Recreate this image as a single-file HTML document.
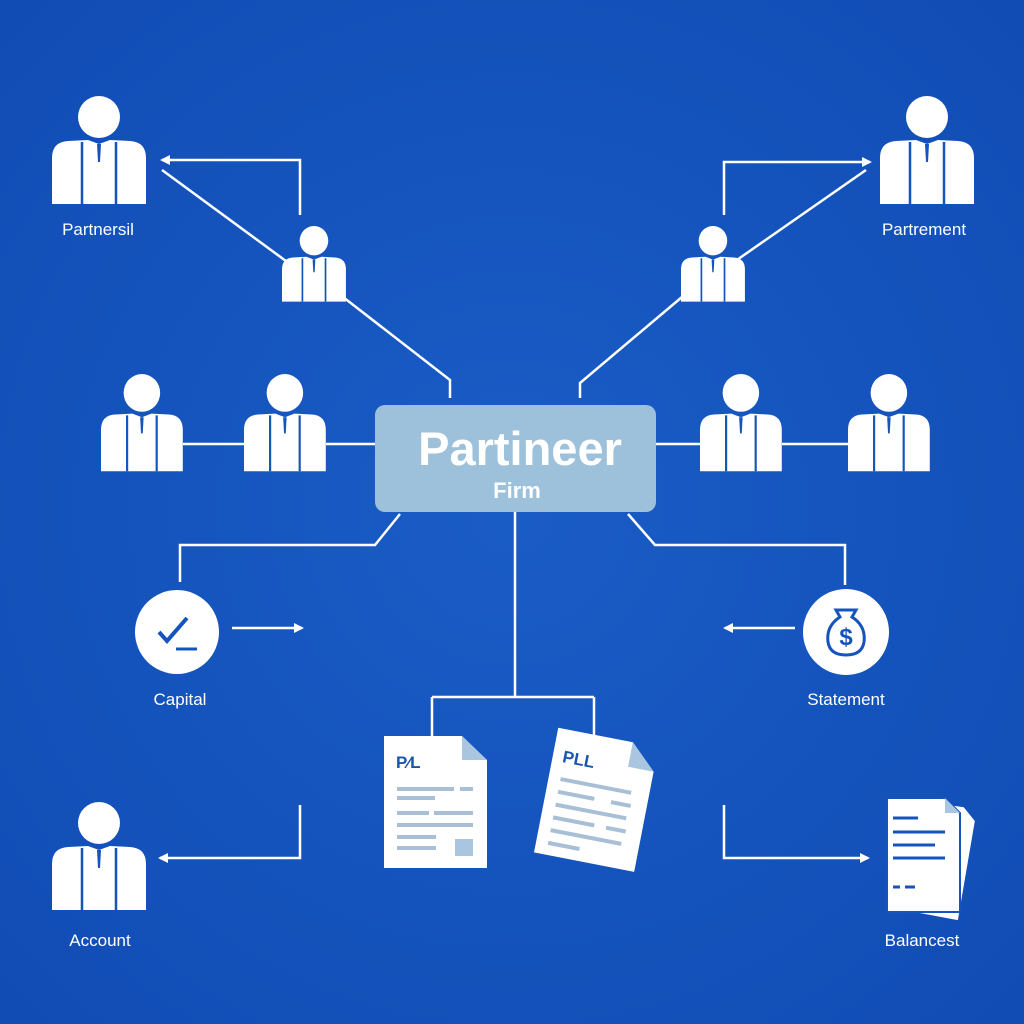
<!DOCTYPE html>
<html><head><style>
html,body{margin:0;padding:0;background:#1554bd;}
svg{display:block;font-family:"Liberation Sans",sans-serif;}
</style></head><body>
<svg width="1024" height="1024" viewBox="0 0 1024 1024">
<defs>
<radialGradient id="bg" cx="50%" cy="50%" r="70%"><stop offset="0" stop-color="#1a5cc6"/><stop offset="1" stop-color="#114cb4"/></radialGradient>
<g id="p">
<circle cx="47" cy="21" r="21" fill="#fff"/>
<path d="M0,108 L0,62 Q0,46 16,45 L36,44 L47,48 L58,44 L78,45 Q94,46 94,62 L94,108 Z" fill="#fff"/>
<path d="M30,46 L30,108 M64,46 L64,108" stroke="#1554bd" stroke-width="2.5"/>
<path d="M45,48 L49,48 L48,66 L46,66 Z" fill="#1554bd"/>
</g>
<marker id="ah" markerWidth="10" markerHeight="10" refX="8" refY="5" orient="auto" markerUnits="userSpaceOnUse"><path d="M0,0 L10,5 L0,10 Z" fill="#fff"/></marker>
</defs>
<rect width="1024" height="1024" fill="url(#bg)"/>
<g stroke="#fff" stroke-width="2.5" fill="none">
<path d="M300,215 L300,160 L162,160" marker-end="url(#ah)"/>
<path d="M290,264 L162,170"/>
<path d="M343,297 L450,380 L450,398"/>
<path d="M724,215 L724,162 L870,162" marker-end="url(#ah)"/>
<path d="M734,262 L866,170"/>
<path d="M682,297 L580,383 L580,398"/>
<path d="M183,444 L244,444 M326,444 L375,444 M656,444 L700,444 M782,444 L848,444"/>
<path d="M400,514 L375,545 L180,545 L180,582"/>
<path d="M628,514 L655,545 L845,545 L845,585"/>
<path d="M515,512 L515,697 M432,697 L594,697 M432,697 L432,737 M594,697 L594,735"/>
<path d="M232,628 L302,628" marker-end="url(#ah)"/>
<path d="M795,628 L725,628" marker-end="url(#ah)"/>
<path d="M300,805 L300,858 L160,858" marker-end="url(#ah)"/>
<path d="M724,805 L724,858 L868,858" marker-end="url(#ah)"/>
</g>
<use href="#p" x="52" y="96"/>
<use href="#p" x="880" y="96"/>
<use href="#p" transform="translate(282,226) scale(0.68,0.7)"/>
<use href="#p" transform="translate(681,226) scale(0.68,0.7)"/>
<use href="#p" transform="translate(101,374) scale(0.87,0.9)"/>
<use href="#p" transform="translate(244,374) scale(0.87,0.9)"/>
<use href="#p" transform="translate(700,374) scale(0.87,0.9)"/>
<use href="#p" transform="translate(848,374) scale(0.87,0.9)"/>
<use href="#p" x="52" y="802"/>
<rect x="375" y="405" width="281" height="107" rx="10" fill="#9dc1da"/>
<text x="520" y="465" font-size="47" font-weight="bold" fill="#fff" text-anchor="middle">Partineer</text>
<text x="517" y="498" font-size="22" font-weight="bold" fill="#fff" text-anchor="middle">Firm</text>
<g fill="#fff" font-size="17" text-anchor="middle">
<text x="98" y="235">Partnersil</text>
<text x="924" y="235">Partrement</text>
<text x="180" y="705">Capital</text>
<text x="846" y="705">Statement</text>
<text x="100" y="946">Account</text>
<text x="922" y="946">Balancest</text>
</g>
<circle cx="177" cy="632" r="42" fill="#fff"/>
<path d="M159,632 L167,641 L187,618" stroke="#1554bd" stroke-width="4" fill="none"/>
<path d="M176,649 L197,649" stroke="#1554bd" stroke-width="3"/>
<circle cx="846" cy="632" r="43" fill="#fff"/>
<path d="M836,610 L856,610 L852,617 Q866,626 864,642 Q862,655 846,655 Q830,655 828,642 Q826,626 840,617 Z" fill="none" stroke="#1554bd" stroke-width="3"/>
<text x="846" y="645" font-size="24" font-weight="bold" fill="#1554bd" text-anchor="middle">$</text>
<path d="M384,736 L462,736 L487,760 L487,868 L384,868 Z" fill="#fff"/>
<path d="M462,736 L462,760 L487,760 Z" fill="#a9c5df"/>
<text x="396" y="768" font-size="17" font-weight="bold" fill="#1a55aa">P⁄L</text>
<g stroke="#a9bfd6" stroke-width="4">
<path d="M397,789 L454,789 M460,789 L473,789 M397,798 L435,798 M397,813 L429,813 M434,813 L473,813 M397,825 L473,825 M397,837 L436,837 M397,848 L436,848"/>
</g>
<rect x="455" y="839" width="18" height="17" fill="#a9c5df"/>
<g transform="rotate(11 590 795)">
<path d="M546,735 L622,735 L648,760 L648,862 L546,862 Z" fill="#fff"/>
<path d="M622,735 L622,760 L648,760 Z" fill="#a9c5df"/>
<text x="556" y="768" font-size="17" font-weight="bold" fill="#1a55aa">PLL</text>
<g stroke="#a9bfd6" stroke-width="4">
<path d="M558,785 L630,785 M558,798 L595,798 M612,798 L632,798 M558,811 L630,811 M558,824 L600,824 M612,824 L632,824 M558,837 L630,837 M558,850 L590,850"/>
</g>
</g>
<g>
<path d="M895,800 L960,805 L972,818 L962,918 L892,910 Z" fill="#fff" transform="rotate(4 930 860)"/>
<path d="M887,798 L945,798 L960,813 L960,912 L887,912 Z" fill="#fff" stroke="#1554bd" stroke-width="2"/>
<path d="M945,798 L945,813 L960,813 Z" fill="#a9c5df"/>
<g stroke="#1554bd" stroke-width="3"><path d="M893,818 L918,818 M893,832 L945,832 M893,845 L935,845 M893,858 L945,858 M893,887 L900,887 M905,887 L915,887"/></g>
</g>
</svg>
</body></html>
